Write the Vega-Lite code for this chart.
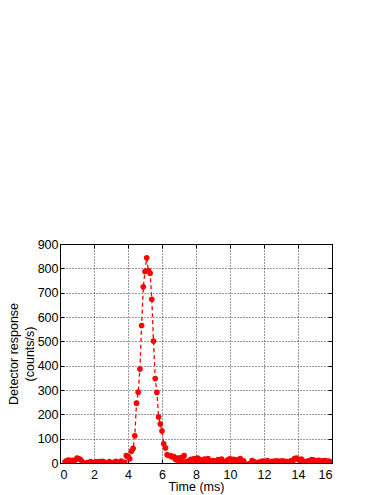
{
  "$schema": "https://vega.github.io/schema/vega-lite/v6.json",
  "width": 272,
  "height": 219,
  "autosize": {"type": "none"},
  "padding": {"left": 60, "top": 244, "right": 51, "bottom": 32},
  "background": "white",
  "config": {
    "view": {"stroke": "black", "strokeWidth": 1},
    "font": "Liberation Sans",
    "axis": {
      "labelFont": "Liberation Sans",
      "titleFont": "Liberation Sans",
      "labelFontSize": 12.5,
      "titleFontSize": 12.5,
      "titleFontWeight": "normal",
      "labelColor": "black",
      "titleColor": "black",
      "domainColor": "black",
      "tickColor": "black",
      "gridColor": "black",
      "gridDash": [1, 2],
      "gridOpacity": 1,
      "gridWidth": 0.8
    }
  },
  "data": {
    "values": [
      {"t": 0.3, "r": 5}, {"t": 0.4, "r": 10}, {"t": 0.5, "r": 12}, {"t": 0.6, "r": 8},
      {"t": 0.7, "r": 11}, {"t": 0.8, "r": 3}, {"t": 0.9, "r": 12}, {"t": 1.0, "r": 20},
      {"t": 1.1, "r": 18}, {"t": 1.2, "r": 14}, {"t": 1.3, "r": 6}, {"t": 1.4, "r": -4},
      {"t": 1.5, "r": -3}, {"t": 1.6, "r": 2}, {"t": 1.7, "r": 1}, {"t": 1.8, "r": 6},
      {"t": 1.9, "r": 3}, {"t": 2.0, "r": 0}, {"t": 2.1, "r": 5}, {"t": 2.2, "r": 4},
      {"t": 2.3, "r": 6}, {"t": 2.4, "r": 5}, {"t": 2.5, "r": 7}, {"t": 2.6, "r": 4},
      {"t": 2.7, "r": -3}, {"t": 2.8, "r": -2}, {"t": 2.9, "r": 6}, {"t": 3.0, "r": -4},
      {"t": 3.1, "r": 1}, {"t": 3.2, "r": 4}, {"t": 3.3, "r": 7}, {"t": 3.4, "r": 0},
      {"t": 3.5, "r": 2}, {"t": 3.6, "r": 8}, {"t": 3.7, "r": 1}, {"t": 3.8, "r": 3},
      {"t": 3.9, "r": 30}, {"t": 4.0, "r": 27}, {"t": 4.1, "r": 17}, {"t": 4.2, "r": 48},
      {"t": 4.3, "r": 60}, {"t": 4.4, "r": 112}, {"t": 4.5, "r": 246}, {"t": 4.6, "r": 291},
      {"t": 4.7, "r": 386}, {"t": 4.8, "r": 565}, {"t": 4.9, "r": 724}, {"t": 5.0, "r": 787},
      {"t": 5.1, "r": 843}, {"t": 5.2, "r": 791}, {"t": 5.3, "r": 780}, {"t": 5.4, "r": 673},
      {"t": 5.5, "r": 501}, {"t": 5.6, "r": 347}, {"t": 5.7, "r": 290}, {"t": 5.8, "r": 189},
      {"t": 5.9, "r": 160}, {"t": 6.0, "r": 131}, {"t": 6.1, "r": 79}, {"t": 6.2, "r": 62},
      {"t": 6.3, "r": 34}, {"t": 6.4, "r": 31}, {"t": 6.5, "r": 30}, {"t": 6.6, "r": 25},
      {"t": 6.7, "r": 26}, {"t": 6.8, "r": 14}, {"t": 6.9, "r": 20}, {"t": 7.0, "r": 8},
      {"t": 7.1, "r": 22}, {"t": 7.2, "r": 5}, {"t": 7.3, "r": 30}, {"t": 7.4, "r": 4},
      {"t": 7.5, "r": 6}, {"t": 7.6, "r": 10}, {"t": 7.7, "r": 15}, {"t": 7.8, "r": 12},
      {"t": 7.9, "r": 18}, {"t": 8.0, "r": 10}, {"t": 8.1, "r": 20}, {"t": 8.2, "r": 15},
      {"t": 8.3, "r": 5}, {"t": 8.4, "r": 12}, {"t": 8.5, "r": 16}, {"t": 8.6, "r": 6},
      {"t": 8.7, "r": 18}, {"t": 8.8, "r": 8}, {"t": 8.9, "r": 2}, {"t": 9.0, "r": 10},
      {"t": 9.1, "r": 3}, {"t": 9.2, "r": 8}, {"t": 9.3, "r": 14}, {"t": 9.4, "r": 9},
      {"t": 9.5, "r": 16}, {"t": 9.6, "r": 1}, {"t": 9.7, "r": 4}, {"t": 9.8, "r": 9},
      {"t": 9.9, "r": 14}, {"t": 10.0, "r": 17}, {"t": 10.1, "r": 10}, {"t": 10.2, "r": 15},
      {"t": 10.3, "r": 8}, {"t": 10.4, "r": 13}, {"t": 10.5, "r": 5}, {"t": 10.6, "r": 18},
      {"t": 10.7, "r": 3}, {"t": 10.8, "r": 9}, {"t": 10.9, "r": -3}, {"t": 11.0, "r": -6},
      {"t": 11.1, "r": -4}, {"t": 11.2, "r": -1}, {"t": 11.3, "r": 10}, {"t": 11.4, "r": 6},
      {"t": 11.5, "r": -2}, {"t": 11.6, "r": 1}, {"t": 11.7, "r": 4}, {"t": 11.8, "r": 2},
      {"t": 11.9, "r": 8}, {"t": 12.0, "r": 1}, {"t": 12.1, "r": 3}, {"t": 12.2, "r": 10},
      {"t": 12.3, "r": 4}, {"t": 12.4, "r": 0}, {"t": 12.5, "r": 7}, {"t": 12.6, "r": 5},
      {"t": 12.7, "r": 9}, {"t": 12.8, "r": 6}, {"t": 12.9, "r": 8}, {"t": 13.0, "r": 5},
      {"t": 13.1, "r": 9}, {"t": 13.2, "r": 4}, {"t": 13.3, "r": 7}, {"t": 13.4, "r": 2},
      {"t": 13.5, "r": 6}, {"t": 13.6, "r": 10}, {"t": 13.7, "r": 8}, {"t": 13.8, "r": 18},
      {"t": 13.9, "r": 20}, {"t": 14.0, "r": 15}, {"t": 14.1, "r": 12}, {"t": 14.2, "r": 16},
      {"t": 14.3, "r": 8}, {"t": 14.4, "r": 5}, {"t": 14.5, "r": 3}, {"t": 14.6, "r": 9},
      {"t": 14.7, "r": 1}, {"t": 14.8, "r": 14}, {"t": 14.9, "r": 12}, {"t": 15.0, "r": 10},
      {"t": 15.1, "r": 6}, {"t": 15.2, "r": 11}, {"t": 15.3, "r": 3}, {"t": 15.4, "r": 9},
      {"t": 15.5, "r": 7}, {"t": 15.6, "r": 10}, {"t": 15.7, "r": 2}, {"t": 15.8, "r": 8},
      {"t": 15.9, "r": 5}
    ]
  },
  "layer": [
    {
      "mark": {"type": "line", "color": "#ff0000", "strokeWidth": 1.3, "strokeDash": [4, 3], "clip": true},
      "encoding": {
        "x": {
          "field": "t", "type": "quantitative",
          "scale": {"domain": [0, 16], "nice": false, "zero": false},
          "axis": {"title": "Time (ms)", "values": [0, 2, 4, 6, 8, 10, 12, 14, 16], "tickSize": -4, "labelPadding": 9, "titlePadding": 0, "grid": true, "domain": true}
        },
        "y": {
          "field": "r", "type": "quantitative",
          "scale": {"domain": [0, 900], "nice": false},
          "axis": {"title": ["Detector response", "(counts/s)"], "values": [0, 100, 200, 300, 400, 500, 600, 700, 800, 900], "tickSize": -4, "labelPadding": 6, "titlePadding": 1, "grid": true, "domain": true, "titleLineHeight": 16}
        }
      }
    },
    {
      "mark": {"type": "circle", "color": "#ff0000", "opacity": 1, "size": 32, "clip": true},
      "encoding": {
        "x": {
          "field": "t", "type": "quantitative",
          "scale": {"domain": [0, 16], "nice": false, "zero": false},
          "axis": {"orient": "top", "title": null, "labels": false, "values": [0, 2, 4, 6, 8, 10, 12, 14, 16], "tickSize": -4, "grid": false, "domain": true}
        },
        "y": {
          "field": "r", "type": "quantitative",
          "scale": {"domain": [0, 900], "nice": false},
          "axis": {"orient": "right", "title": null, "labels": false, "values": [0, 100, 200, 300, 400, 500, 600, 700, 800, 900], "tickSize": -4, "grid": false, "domain": true}
        }
      }
    }
  ],
  "resolve": {"axis": {"x": "independent", "y": "independent"}}
}
